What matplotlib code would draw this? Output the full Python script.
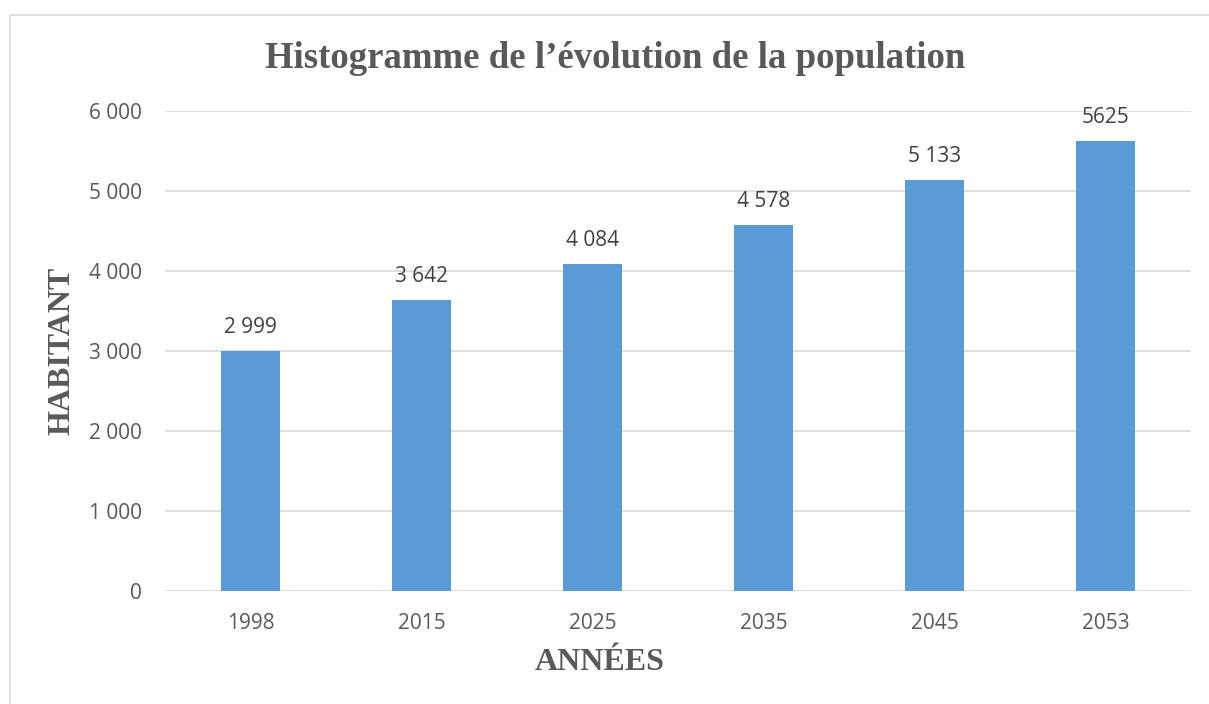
import matplotlib.pyplot as plt
from matplotlib.ticker import FuncFormatter
from matplotlib.lines import Line2D

annees = ['1998', '2015', '2025', '2035', '2045', '2053']
habitants = [2999, 3642, 4084, 4578, 5133, 5625]
etiquettes = ['2 999', '3 642', '4 084', '4 578', '5 133', '5625']

fig = plt.figure(figsize=(12.09, 7.04), dpi=100)
ax = fig.add_axes([165/1209, 113/704, (1191-165)/1209, 480/704])

x = range(len(annees))
bars = ax.bar(x, habitants, width=0.34, color='#5B9BD5', zorder=3)

# valeurs au-dessus des barres
for b, t in zip(bars, etiquettes):
    ax.text(b.get_x() + b.get_width()/2, b.get_height() + 225, t,
            ha='center', va='baseline', fontsize=15, color='#404040',
            family='Open Sans')

ax.set_xlim(-0.5, len(annees) - 0.5)
ax.set_ylim(0, 6000)
ax.set_yticks(range(0, 6001, 1000))
ax.yaxis.set_major_formatter(FuncFormatter(lambda v, p: f'{int(v):,}'.replace(',', ' ')))
ax.set_xticks(list(x))
ax.set_xticklabels(annees)
ax.grid(axis='y', color='#D9D9D9', linewidth=1.2, zorder=0)
for s in ax.spines.values():
    s.set_visible(False)
ax.tick_params(length=0, labelsize=15, labelcolor='#595959')
ax.tick_params(axis='x', pad=15.5)
ax.tick_params(axis='y', pad=16.5)
for lab in ax.get_xticklabels() + ax.get_yticklabels():
    lab.set_family('Open Sans')

fig.text(615/1209, 1 - 68/704, 'Histogramme de l\u2019évolution de la population',
         ha='center', va='baseline', fontsize=26.5, fontweight='bold',
         family='Liberation Serif', color='#595959')
fig.text(600/1209, 1 - 670/704, 'ANNÉES', ha='center', va='baseline', fontsize=23,
         fontweight='bold', family='Liberation Serif', color='#595959')
fig.text(62/1209, 1 - 351/704, 'HABITANT', ha='center', va='center', fontsize=23,
         fontweight='bold', family='Liberation Serif', color='#595959', rotation=90)

# cadre du graphique
fig.add_artist(Line2D([10/1209, 10/1209], [0, 1 - 15/704], transform=fig.transFigure,
                      color='#D9D9D9', linewidth=1.2))
fig.add_artist(Line2D([10/1209, 1], [1 - 15/704, 1 - 15/704], transform=fig.transFigure,
                      color='#D9D9D9', linewidth=1.2))

fig.savefig('out.png', dpi=100)
